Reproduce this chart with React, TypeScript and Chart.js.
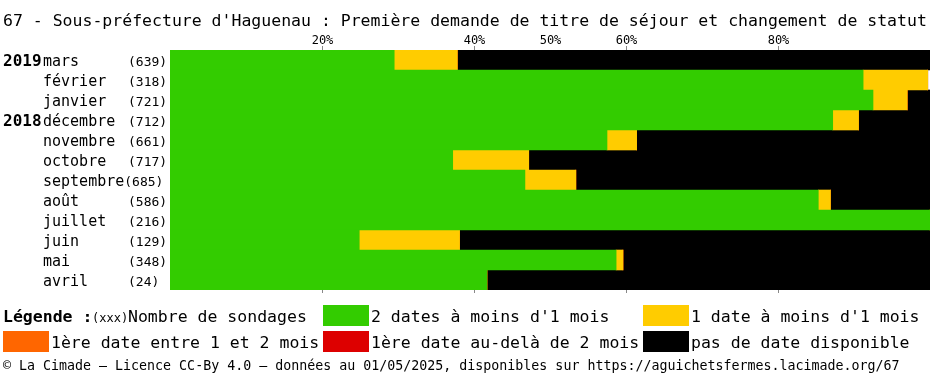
import React, { useEffect, useRef } from "react";
import { Chart, registerables } from "chart.js";

Chart.register(...registerables);

const TITLE =
  "67 - Sous-préfecture d'Haguenau : Première demande de titre de séjour et changement de statut";
const FOOTER =
  "© La Cimade – Licence CC-By 4.0 – données au 01/05/2025, disponibles sur https://aguichetsfermes.lacimade.org/67";

const months = ["mars", "février", "janvier", "décembre", "novembre", "octobre", "septembre", "août", "juillet", "juin", "mai", "avril"];
const years = ["2019", "", "", "2018", "", "", "", "", "", "", "", ""];
const counts = [639, 318, 721, 712, 661, 717, 685, 586, 216, 129, 348, 24];

const green = [29.5, 91.2, 92.5, 87.2, 57.5, 37.2, 46.7, 85.3, 100, 24.9, 58.7, 41.7];
const yellow = [8.3, 8.5, 4.5, 3.4, 3.9, 10.0, 6.7, 1.6, 0, 13.2, 0.9, 0];
const orange = [0, 0, 0, 0, 0, 0, 0, 0, 0, 0, 0, 0];
const red = [0, 0, 0, 0, 0, 0, 0, 0, 0, 0, 0, 0];
const black = [62.2, 0, 3.0, 9.4, 38.6, 52.8, 46.6, 13.1, 0, 61.9, 40.4, 58.3];

const tickValues = [20, 40, 50, 60, 80];

const seriesLabels = [
  "2 dates à moins d'1 mois",
  "1 date à moins d'1 mois",
  "1ère date entre 1 et 2 mois",
  "1ère date au-delà de 2 mois",
  "pas de date disponible",
];
const seriesColors = ["#33CC00", "#FFCC00", "#FF6600", "#DD0000", "#000000"];

const MONO = "'DejaVu Sans Mono', monospace";

const textPlugin = {
  id: "textPlugin",
  afterDraw(chart: any) {
    const ctx = chart.ctx;
    const xs = chart.scales.x;
    const ys = chart.scales.y;
    const area = chart.chartArea;
    ctx.save();
    ctx.fillStyle = "#000";
    ctx.textBaseline = "alphabetic";

    // title
    ctx.font = `16.5px ${MONO}`;
    ctx.textAlign = "left";
    ctx.fillText(TITLE, 3, 26);

    // tick labels + tick extensions
    ctx.font = `12px ${MONO}`;
    ctx.textAlign = "center";
    tickValues.forEach((v) => {
      const px = Math.round(xs.getPixelForValue(v)) + 0.5;
      ctx.fillText(v + "%", px, 44);
      ctx.strokeStyle = v === 50 ? "#ffffff" : "#888888";
      ctx.lineWidth = 1;
      ctx.beginPath();
      ctx.moveTo(px, area.top - 4);
      ctx.lineTo(px, area.top);
      ctx.moveTo(px, area.bottom);
      ctx.lineTo(px, area.bottom + 3);
      ctx.stroke();
    });

    // left labels
    ctx.textAlign = "left";
    months.forEach((m, i) => {
      const cy = ys.getPixelForValue(i);
      const base = cy + 6;
      if (years[i]) {
        ctx.font = `bold 16px ${MONO}`;
        ctx.fillText(years[i], 3, base);
      }
      ctx.font = `15px ${MONO}`;
      ctx.fillText(m, 43, base);
      const w = ctx.measureText(m).width;
      ctx.font = `13px ${MONO}`;
      ctx.fillText(`(${counts[i]})`, m.length >= 9 ? 43 + w : 128, base);
    });

    // legend
    const row1 = 322;
    const row2 = 348;
    ctx.font = `bold 16.5px ${MONO}`;
    ctx.fillText("Légende :", 3, row1);
    ctx.font = `12px ${MONO}`;
    ctx.fillText("(xxx)", 92, row1);
    ctx.font = `16.5px ${MONO}`;
    ctx.fillText("Nombre de sondages", 128, row1);

    const items = [
      { x: 323, y: row1 },
      { x: 643, y: row1 },
      { x: 3, y: row2 },
      { x: 323, y: row2 },
      { x: 643, y: row2 },
    ];
    items.forEach((it, i) => {
      ctx.fillStyle = seriesColors[i];
      ctx.fillRect(it.x, it.y - 17, 46, 21);
      ctx.fillStyle = "#000";
      ctx.font = `16.5px ${MONO}`;
      ctx.fillText(seriesLabels[i], it.x + 48, it.y);
    });

    // footer
    ctx.font = `13.3px ${MONO}`;
    ctx.fillText(FOOTER, 3, 370);
    ctx.restore();
  },
};

export default function App() {
  const ref = useRef<HTMLCanvasElement>(null);
  useEffect(() => {
    if (!ref.current) return;
    const chart = new Chart(ref.current, {
      type: "bar",
      data: {
        labels: months,
        datasets: [green, yellow, orange, red, black].map((d, i) => ({
          label: seriesLabels[i],
          data: d,
          backgroundColor: seriesColors[i],
          borderWidth: 0,
          barPercentage: 1,
          categoryPercentage: 1,
        })),
      },
      options: {
        indexAxis: "y",
        responsive: false,
        animation: false,
        layout: { padding: { left: 170, right: 0, top: 50, bottom: 85 } },
        plugins: { legend: { display: false }, tooltip: { enabled: false }, title: { display: false } },
        scales: {
          x: {
            stacked: true,
            min: 0,
            max: 100,
            position: "top",
            display: true,
            z: 1,
            afterBuildTicks: (s: any) => {
              s.ticks = tickValues.map((v) => ({ value: v }));
            },
            ticks: { display: false },
            border: { display: false },
            grid: {
              drawTicks: false,
              lineWidth: 1,
              color: (c: any) => (c.tick && c.tick.value === 50 ? "#ffffff" : "#888888"),
            },
          },
          y: {
            stacked: true,
            display: false,
          },
        },
      },
      plugins: [textPlugin],
    });
    return () => chart.destroy();
  }, []);
  return (
    <div style={{ position: "absolute", left: 0, top: 0, width: 930, height: 375, background: "#fff" }}>
      <canvas ref={ref} width={930} height={375} style={{ display: "block" }} />
    </div>
  );
}
